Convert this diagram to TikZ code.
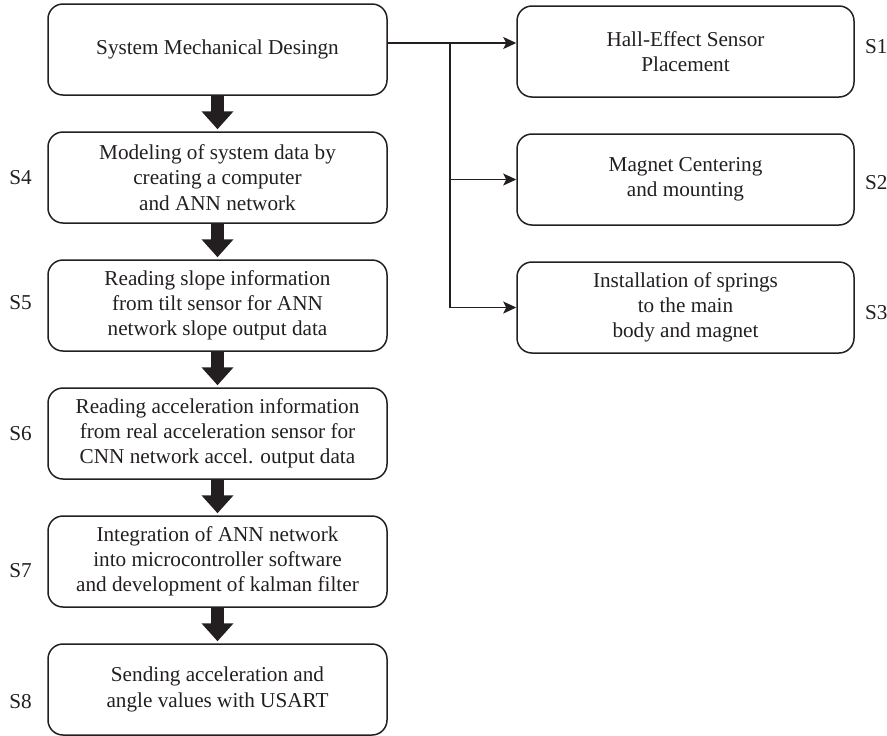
\documentclass[tikz,border=0pt]{standalone}
\usepackage{fontspec}
\setmainfont{Liberation Serif}
\usepackage{xcolor}
\usetikzlibrary{positioning,arrows.meta}
\definecolor{ink}{HTML}{231F20}

\begin{document}
\begin{tikzpicture}[x=0.5pt,y=-0.5pt,node distance=17.75pt,
    box/.style={draw=ink,line width=0.75pt,rounded corners=7.5pt,minimum width=169.5pt,minimum height=45.5pt,align=center,text=ink,font=\fontsize{10.6}{12.6}\selectfont},
    tag/.style={inner sep=0pt,text=ink,font=\fontsize{10.6}{12.6}\selectfont},
    bigarrow/.style={draw=ink,line width=6.5pt,-{Triangle[width=15.5pt,length=9pt]},shorten >=1pt},
    link/.style={draw=ink,line width=0.7pt,-{Stealth[length=6.5pt,width=6pt,inset=1.5pt]}}]
                \useasboundingbox (0,0) rectangle (887,735);
                \node[box] (design) at (217.5,49.5) {System Mechanical Desingn};
                \node[box] (model) [below=of design] {Modeling of system data by\\creating a computer\\and ANN network};
                \node[box] (slope) [below=of model] {Reading slope information\\from tilt sensor for ANN\\network slope output data};
                \node[box] (accel) [below=of slope] {Reading acceleration information\\from real acceleration sensor for\\CNN network accel. output data};
                \node[box] (kalman) [below=of accel] {Integration of ANN network\\into microcontroller software\\and development of kalman filter};
                \node[box] (usart) [below=of kalman] {Sending acceleration and\\angle values with USART};
                \node[box,minimum width=168.5pt] (hall) at (685.5,51.5) {Hall-Effect Sensor\\Placement};
                \node[box,minimum width=168.5pt] (magnet) [below=of hall] {Magnet Centering\\and mounting};
                \node[box,minimum width=168.5pt] (spring) [below=of magnet] {Installation of springs\\to the main\\body and magnet};
                \node[tag,right=5pt of hall,yshift=2.25pt] (s1) {S1};
                \node[tag,right=5pt of magnet,yshift=-1.75pt] (s2) {S2};
                \node[tag,right=5pt of spring,yshift=-2.5pt] (s3) {S3};
                \node[tag,left=7.5pt of model] (s4) {S4};
                \node[tag,left=7.5pt of slope,yshift=1.25pt] (s5) {S5};
                \node[tag,left=7.5pt of accel] (s6) {S6};
                \node[tag,left=7.5pt of kalman,yshift=-4.5pt] (s7) {S7};
                \node[tag,left=7.5pt of usart,yshift=-6pt] (s8) {S8};
                \coordinate (fork) at (450,43);
                \path
                    (design) edge [bigarrow] (model)
                    (model) edge [bigarrow] (slope)
                    (slope) edge [bigarrow] (accel)
                    (accel) edge [bigarrow] (kalman)
                    (kalman) edge [bigarrow] (usart);
                \draw[ink,line width=0.7pt] (fork) -- (fork |- spring);
                \path
                    (design.east |- fork) edge [link] (hall.west |- fork)
                    (fork |- magnet) edge [link] (magnet)
                    (fork |- spring) edge [link] (spring);
            \end{tikzpicture}
\end{document}
